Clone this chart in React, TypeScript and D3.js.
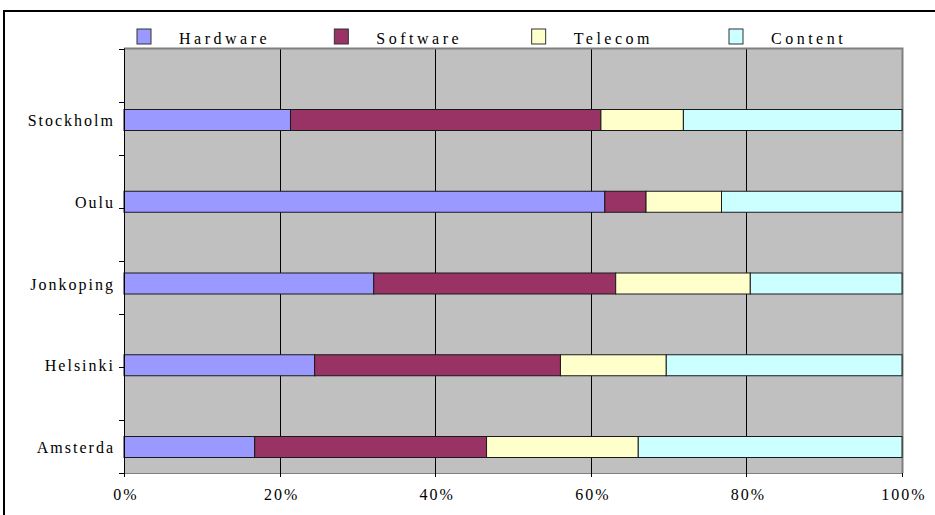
import React, { useEffect, useRef } from "react";
import * as d3 from "d3";

const cities = ["Stockholm", "Oulu", "Jonkoping", "Helsinki", "Amsterda"];
const seriesNames = ["Hardware", "Software", "Telecom", "Content"];
const hardware = [21.4, 61.8, 32.1, 24.5, 16.8];
const software = [39.9, 5.3, 31.1, 31.6, 29.8];
const telecom = [10.6, 9.7, 17.3, 13.6, 19.5];
const content = [28.1, 23.2, 19.5, 30.3, 33.9];
const xTicks = [0, 20, 40, 60, 80, 100];
const colors = ["#9999FF", "#993366", "#FFFFCC", "#CCFFFF"];

const FONT = "'Liberation Serif', 'Times New Roman', serif";

export default function App() {
  const ref = useRef<SVGSVGElement>(null);

  useEffect(() => {
    const svg = d3.select(ref.current);
    svg.selectAll("*").remove();

    const left = 124, right = 902, top = 48.5, bottom = 473;

    const rows = cities.map((c, i) => ({
      city: c,
      Hardware: hardware[i],
      Software: software[i],
      Telecom: telecom[i],
      Content: content[i],
    }));
    const stacked = d3.stack<any>().keys(seriesNames).offset(d3.stackOffsetExpand)(rows);

    const x = d3.scaleLinear().domain([0, 1]).range([left, right]);
    const y = d3.scalePoint().domain(cities).range([120, 447]);
    const color = d3.scaleOrdinal<string>().domain(seriesNames).range(colors);
    const barH = 21;

    // outer frame
    svg.append("rect")
      .attr("x", 4).attr("y", 11)
      .attr("width", 940).attr("height", 520)
      .attr("fill", "white").attr("stroke", "black").attr("stroke-width", 2);

    // plot area
    svg.append("rect")
      .attr("x", left).attr("y", top)
      .attr("width", right - left).attr("height", bottom - top)
      .attr("fill", "#C0C0C0");

    // vertical grid
    svg.append("g").selectAll("line").data(xTicks.slice(1, -1)).join("line")
      .attr("x1", (d) => Math.round(x(d / 100)) + 0.5)
      .attr("x2", (d) => Math.round(x(d / 100)) + 0.5)
      .attr("y1", top).attr("y2", bottom)
      .attr("stroke", "black");

    // plot border (grey)
    svg.append("path")
      .attr("d", `M${left},${top}H${right + 0.5}V${bottom}`)
      .attr("fill", "none").attr("stroke", "#808080").attr("stroke-width", 2);

    // bars
    svg.append("g").selectAll("g").data(stacked).join("g")
      .attr("fill", (d) => color(d.key))
      .selectAll("rect").data((d) => d).join("rect")
      .attr("x", (d) => x(d[0]))
      .attr("width", (d) => x(d[1]) - x(d[0]))
      .attr("y", (d) => (y(d.data.city) as number) - barH / 2)
      .attr("height", barH)
      .attr("stroke", "#1a1a1a").attr("stroke-width", 1);

    // y axis
    const tickY = d3.scaleLinear().domain([0, 8]).range([top, bottom]);
    svg.append("line")
      .attr("x1", left + 0.5).attr("x2", left + 0.5)
      .attr("y1", top).attr("y2", bottom + 4)
      .attr("stroke", "black");
    svg.append("g").selectAll("line").data(d3.range(9)).join("line")
      .attr("x1", left - 5).attr("x2", left)
      .attr("y1", (d) => Math.round(tickY(d)) + 0.5)
      .attr("y2", (d) => Math.round(tickY(d)) + 0.5)
      .attr("stroke", "black");
    svg.append("g").selectAll("text").data(cities).join("text")
      .attr("x", 115)
      .attr("y", (d) => (y(d) as number) + 6)
      .attr("text-anchor", "end")
      .style("font-family", FONT).style("font-size", "16px")
      .style("letter-spacing", "2px")
      .text((d) => d);

    // x axis
    svg.append("line")
      .attr("x1", left).attr("x2", right)
      .attr("y1", bottom + 0.5).attr("y2", bottom + 0.5)
      .attr("stroke", "#808080");
    svg.append("g").selectAll("line").data(xTicks).join("line")
      .attr("x1", (d) => Math.round(x(d / 100)) + 0.5)
      .attr("x2", (d) => Math.round(x(d / 100)) + 0.5)
      .attr("y1", bottom).attr("y2", bottom + 4)
      .attr("stroke", "black");
    svg.append("g").selectAll("text").data(xTicks).join("text")
      .attr("x", (d) => x(d / 100) + 2)
      .attr("y", 500)
      .attr("text-anchor", "middle")
      .style("font-family", FONT).style("font-size", "16px")
      .style("letter-spacing", "2px")
      .text((d) => `${d}%`);

    // legend
    const legendX = d3.scalePoint().domain(seriesNames).range([137, 729]);
    const lg = svg.append("g").selectAll("g").data(seriesNames).join("g")
      .attr("transform", (d) => `translate(${legendX(d)},29)`);
    lg.append("rect")
      .attr("width", 14).attr("height", 15)
      .attr("fill", (d) => color(d))
      .attr("stroke", "#333").attr("stroke-width", 1);
    lg.append("text")
      .attr("x", 42).attr("y", 15)
      .style("font-family", FONT).style("font-size", "16px")
      .style("letter-spacing", "3.5px")
      .text((d) => d);
  }, []);

  return (
    <svg
      ref={ref}
      width={935}
      height={515}
      style={{ position: "absolute", left: 0, top: 0, display: "block" }}
    />
  );
}
